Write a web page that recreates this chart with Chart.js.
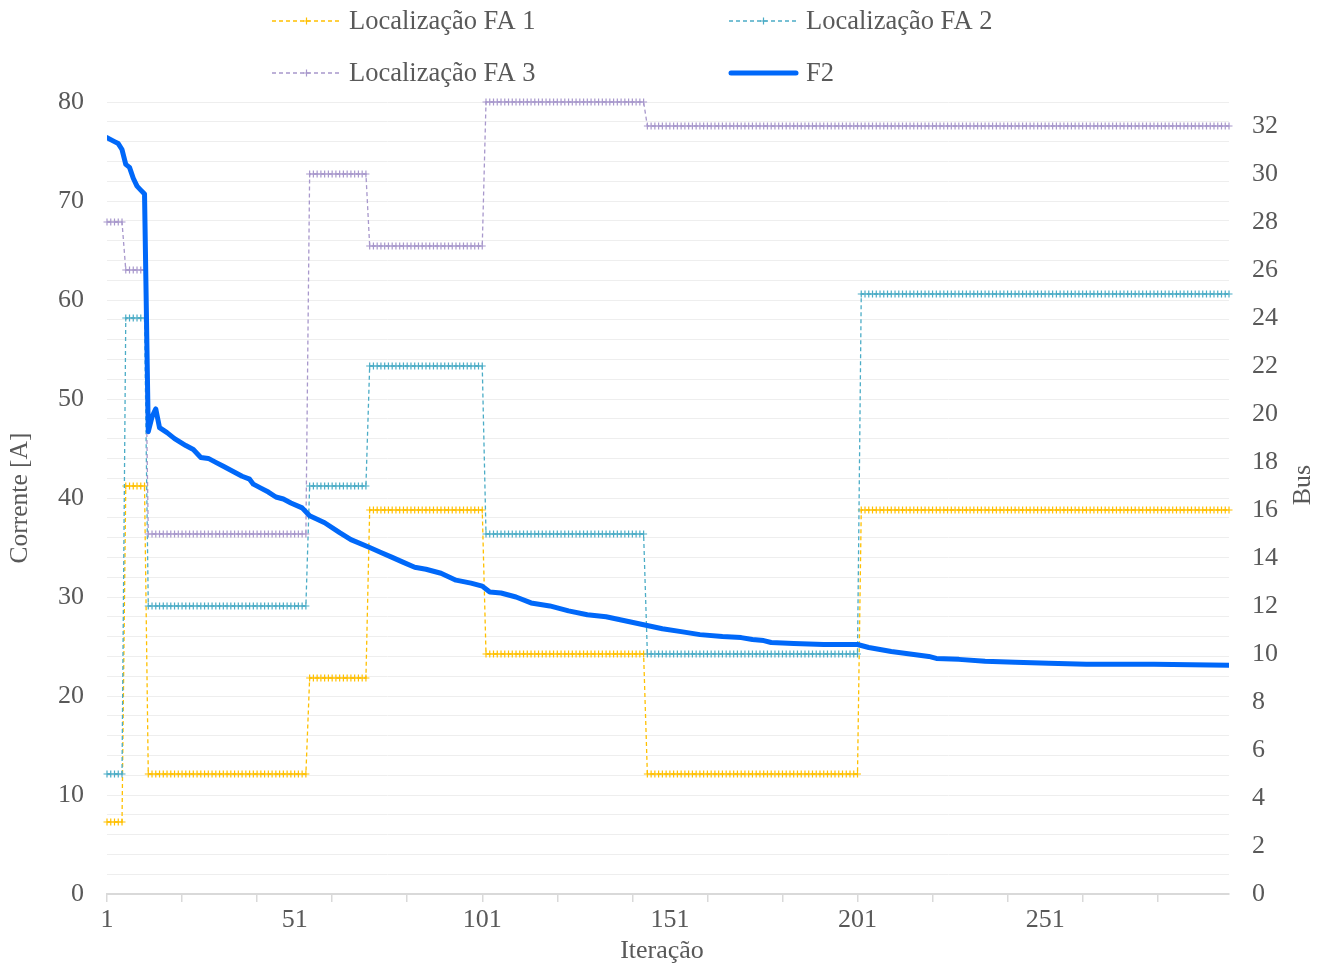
<!DOCTYPE html>
<html>
<head>
<meta charset="utf-8">
<script src="https://cdn.jsdelivr.net/npm/chart.js@4.4.1/dist/chart.umd.min.js"></script>
<style>
    html, body { margin: 0; padding: 0; background: #ffffff; }
    #wrap { width: 1327px; height: 967px; }
</style>
</head>
<body>
<div id="wrap"><canvas id="chart" width="1327" height="967"></canvas></div>
<script>
// iteration ranges where the fault locations stay constant
const segmentStart = [1, 6, 12, 55, 71, 102, 145, 202];
const segmentEnd = [5, 11, 54, 70, 101, 144, 201, 300];

// bus numbers per range (right axis)
const fa1Bus = [3, 17, 5, 9, 16, 10, 5, 16];
const fa2Bus = [5, 24, 12, 17, 22, 15, 10, 25];
const fa3Bus = [28, 26, 15, 30, 27, 33, 32, 32];

// F2 current (left axis)
const f2Iter = [1, 3, 4, 5, 6, 7, 8, 9, 10, 11, 12, 13, 14, 15, 17, 19, 22, 24, 26, 28,
    30, 32, 35, 37, 39, 40, 42, 44, 46, 48, 50, 53, 55, 59, 63, 66, 71, 74, 77, 80,
    83, 86, 90, 94, 98, 101, 103, 106, 110, 114, 119, 124, 129, 134, 139, 144, 149, 154, 159, 165,
    170, 173, 176, 178, 184, 192, 201, 204, 210, 216, 220, 222, 228, 235, 243, 252, 262, 280, 300];
const f2Current = [76.4, 76.0, 75.8, 75.2, 73.7, 73.4, 72.3, 71.5, 71.1, 70.7, 46.7, 48.2, 49.0, 47.1, 46.6, 46.0, 45.3, 44.9, 44.1, 44.0,
    43.6, 43.2, 42.6, 42.2, 41.9, 41.4, 41.0, 40.6, 40.1, 39.9, 39.5, 39.0, 38.2, 37.5, 36.5, 35.8, 35.0, 34.5, 34.0, 33.5,
    33.0, 32.8, 32.4, 31.7, 31.4, 31.1, 30.5, 30.4, 30.0, 29.4, 29.1, 28.6, 28.2, 28.0, 27.6, 27.2, 26.8, 26.5, 26.2, 26.0,
    25.9, 25.7, 25.6, 25.4, 25.3, 25.2, 25.2, 24.9, 24.5, 24.2, 24.0, 23.8, 23.7, 23.5, 23.4, 23.3, 23.2, 23.2, 23.1];

const seriesNames = ['Localização FA 1', 'Localização FA 2', 'Localização FA 3', 'F2'];
const seriesColors = ['#FFC000', '#4BACC6', '#A898CC', '#0068F9'];

const xLabelTicks = [1, 51, 101, 151, 201, 251];
const xMarkTicks = [1, 21, 41, 61, 81, 101, 121, 141, 161, 181, 201, 221, 241, 261, 281];
const leftTicks = [0, 10, 20, 30, 40, 50, 60, 70, 80];
const rightTicks = [0, 2, 4, 6, 8, 10, 12, 14, 16, 18, 20, 22, 24, 26, 28, 30, 32];

const TEXT = '#595959';
const FONT = "'Liberation Serif', 'Times New Roman', serif";

function expandSegments(busValues) {
    const points = [];
    busValues.forEach((bus, k) => {
        for (let i = segmentStart[k]; i <= segmentEnd[k]; i++) {
            points.push({ x: i, y: bus });
        }
    });
    return points;
}

function faDataset(idx, busValues) {
    return {
        label: seriesNames[idx],
        data: expandSegments(busValues),
        yAxisID: 'yBus',
        borderColor: seriesColors[idx],
        borderWidth: 1.3,
        borderDash: [4, 3],
        pointStyle: 'cross',
        pointRadius: 3.5,
        pointBorderWidth: 1.2,
        pointBorderColor: seriesColors[idx],
        pointBackgroundColor: seriesColors[idx],
        tension: 0,
        clip: false,
        order: 3 - idx
    };
}

const legendPlugin = {
    id: 'faLegend',
    afterDraw(chart) {
        const ctx = chart.ctx;
        const items = [
            { x: 272, y: 21, idx: 0 },
            { x: 729, y: 21, idx: 1 },
            { x: 272, y: 73, idx: 2 },
            { x: 729, y: 73, idx: 3 }
        ];
        ctx.save();
        items.forEach(item => {
            const color = seriesColors[item.idx];
            ctx.strokeStyle = color;
            if (item.idx === 3) {
                ctx.lineWidth = 5;
                ctx.lineCap = 'round';
                ctx.setLineDash([]);
                ctx.beginPath();
                ctx.moveTo(item.x + 2, item.y);
                ctx.lineTo(item.x + 67, item.y);
                ctx.stroke();
            } else {
                ctx.lineWidth = 1.3;
                ctx.lineCap = 'butt';
                ctx.setLineDash([4, 3]);
                ctx.beginPath();
                ctx.moveTo(item.x, item.y);
                ctx.lineTo(item.x + 69, item.y);
                ctx.stroke();
                ctx.setLineDash([]);
                ctx.lineWidth = 1.2;
                const cx = item.x + 34.5;
                ctx.beginPath();
                ctx.moveTo(cx - 3.5, item.y);
                ctx.lineTo(cx + 3.5, item.y);
                ctx.moveTo(cx, item.y - 3.5);
                ctx.lineTo(cx, item.y + 3.5);
                ctx.stroke();
            }
            ctx.fillStyle = TEXT;
            ctx.font = '26.5px ' + FONT;
            ctx.textAlign = 'left';
            ctx.textBaseline = 'middle';
            ctx.fillText(seriesNames[item.idx], item.x + 77, item.y + 1);
        });

        // bottom axis title, centred on the page like the original
        ctx.font = '26px ' + FONT;
        ctx.textAlign = 'center';
        ctx.textBaseline = 'middle';
        ctx.fillText('Iteração', 662, 951);

        // right axis title, rotated like the left one
        ctx.translate(1303, 485);
        ctx.rotate(-Math.PI / 2);
        ctx.fillText('Bus', 0, 0);
        ctx.restore();
    }
};

new Chart(document.getElementById('chart').getContext('2d'), {
    type: 'line',
    data: {
        datasets: [
            {
                label: seriesNames[3],
                data: f2Iter.map((it, k) => ({ x: it, y: f2Current[k] })),
                yAxisID: 'yCur',
                borderColor: seriesColors[3],
                borderWidth: 5,
                borderJoinStyle: 'round',
                borderCapStyle: 'round',
                pointRadius: 0,
                tension: 0,
                order: 0
            },
            faDataset(0, fa1Bus),
            faDataset(1, fa2Bus),
            faDataset(2, fa3Bus)
        ]
    },
    options: {
        responsive: false,
        animation: false,
        devicePixelRatio: 1,
        layout: { padding: { top: 102, left: 0, right: 0, bottom: 0 } },
        plugins: {
            legend: { display: false },
            tooltip: { enabled: false }
        },
        scales: {
            x: {
                type: 'linear',
                min: 1,
                max: 300,
                afterBuildTicks: scale => {
                    const values = Array.from(new Set([...xMarkTicks, ...xLabelTicks])).sort((a, b) => a - b);
                    scale.ticks = values.map(v => ({ value: v }));
                },
                afterFit: scale => { scale.height = 73; },
                ticks: {
                    autoSkip: false,
                    maxRotation: 0,
                    padding: 3,
                    color: TEXT,
                    font: { family: FONT, size: 26 },
                    callback: value => (xLabelTicks.includes(value) ? String(value) : '')
                },
                grid: {
                    drawOnChartArea: false,
                    drawTicks: true,
                    tickLength: 8,
                    lineWidth: 1.5,
                    color: '#d9d9d9',
                    tickColor: ctx => (ctx.tick && xMarkTicks.includes(ctx.tick.value) ? '#d9d9d9' : 'rgba(0,0,0,0)')
                },
                border: { display: true, color: '#d9d9d9', width: 2 },
                title: { display: false }
            },
            yCur: {
                type: 'linear',
                position: 'left',
                min: 0,
                max: 80,
                afterBuildTicks: scale => {
                    const values = [];
                    for (let v = 0; v <= 80; v += 2) values.push({ value: v });
                    scale.ticks = values;
                },
                afterFit: scale => { scale.width = 107; },
                ticks: {
                    autoSkip: false,
                    padding: 23,
                    color: TEXT,
                    font: { family: FONT, size: 26 },
                    callback: value => (leftTicks.includes(value) ? String(value) : '')
                },
                grid: {
                    drawTicks: false,
                    color: '#eeeeee',
                    lineWidth: 1
                },
                border: { display: false },
                title: {
                    display: true,
                    text: 'Corrente [A]',
                    color: TEXT,
                    font: { family: FONT, size: 25.5 },
                    padding: { top: 5, bottom: 0 }
                }
            },
            yBus: {
                type: 'linear',
                position: 'right',
                min: 0,
                max: 33,
                afterBuildTicks: scale => {
                    scale.ticks = rightTicks.map(v => ({ value: v }));
                },
                afterFit: scale => { scale.width = 98; },
                ticks: {
                    autoSkip: false,
                    padding: 23,
                    color: TEXT,
                    font: { family: FONT, size: 26 }
                },
                grid: { display: false, drawTicks: false },
                border: { display: false }
            }
        }
    },
    plugins: [legendPlugin]
});
</script>
</body>
</html>
